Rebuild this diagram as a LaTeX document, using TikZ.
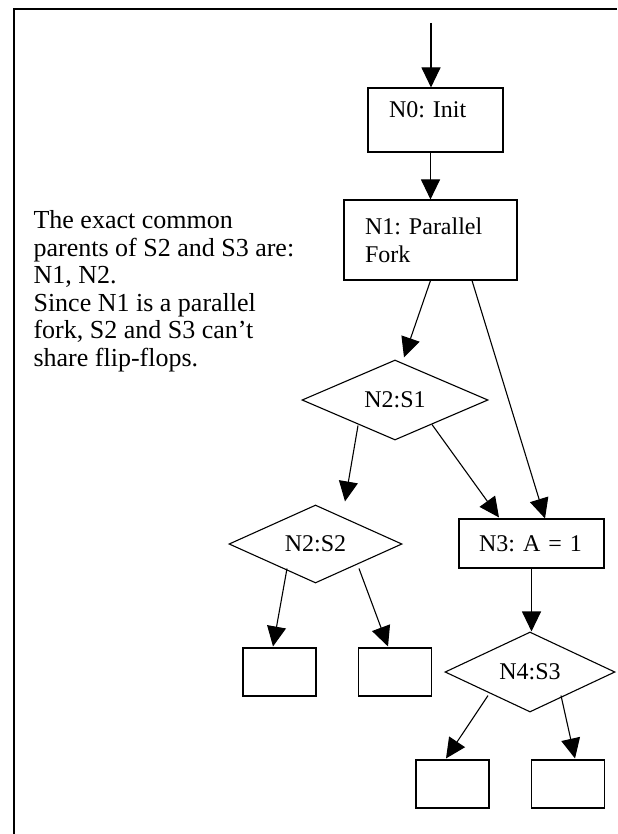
\documentclass[tikz,border=0pt]{standalone}
\usepackage{fontspec}
\setmainfont{Liberation Serif}
\frenchspacing
\usetikzlibrary{arrows.meta, shapes.geometric, calc}
\tikzset{
  every picture/.style={font=\fontsize{12pt}{13.8pt}\selectfont, line width=0.55pt},
  box/.style={draw, rectangle, align=left, inner xsep=10.5pt, inner ysep=0pt},
  cond/.style={draw, diamond, aspect=2.2, inner sep=0pt},
  leaf/.style={draw, rectangle, minimum width=36.5pt, minimum height=24pt, inner sep=0pt},
  arrow/.style={-{Triangle[length=10pt, width=9.5pt]}},
  frame/.style={line width=1pt},
  note/.style={align=left, inner sep=0pt, font=\fontsize{13pt}{13.8pt}\selectfont},
}

\begin{document}
\begin{tikzpicture}[x=0.5pt, y=-0.5pt]
  \useasboundingbox (0,0) rectangle (617,834);
  \draw[frame] (13.5,834) -- (13.5,9) -- (617,9);

  % ---- the remark on the left
  \node[note, anchor=north west] (remark) at (33,210)
    {The exact common\\parents of S2 and S3 are:\\N1, N2.\\Since N1 is a parallel\\fork, S2 and S3 can’t\\share flip-flops.};

  % ---- the flow
  \coordinate (entry) at (431,23);
  \node[box, text width=46.5pt, text depth=10pt, minimum height=32pt] (init) at (435.5,120) {N0: Init};
  \node[box, text width=65.5pt, minimum height=40pt] (fork) at (430.5,240) {N1: Parallel\\Fork};
  \node[cond, minimum width=93pt, minimum height=40pt] (s1) at (395,400) {N2:S1};
  \node[cond, minimum width=86.5pt, minimum height=39pt] (s2) at (315.5,544) {N2:S2};
  \node[box, text width=52.5pt, inner xsep=10pt, minimum height=24.5pt] (n3) at (531.5,543.5) {N3: A = 1};
  \node[cond, minimum width=85pt, minimum height=40pt] (s3) at (530,672) {N4:S3};
  \foreach \n/\x/\y in {b1/279.5/672, b2/395/672, b3/452.5/784, b4/568/784}
    { \node[leaf] (\n) at (\x,\y) {}; }

  \draw[arrow] (entry) -- (entry |- init.north);
  \draw[arrow] (fork.north |- init.south) -- (fork.north);
  \draw[arrow] (fork.south) -- ($(s1.north)+(9,-2)$);
  \draw[arrow] ($(fork.south)+(41.5,0)$) -- ($(n3.north)+(13.5,0)$);
  \draw[arrow] ($(s1.south)+(-37,-15)$) -- ($(s2.north)+(29.5,-3)$);
  \draw[arrow] ($(s1.south)+(37,-16)$) -- ($(n3.north)+(-32.5,-1)$);
  \draw[arrow] ($(s2.south)+(-28.5,-15)$) -- ($(b1.north)+(-6.5,-1)$);
  \draw[arrow] ($(s2.south)+(43.5,-15)$) -- ($(b2.north)+(-7,-1)$);
  \draw[arrow] (n3.south) -- (n3.south |- s3.north);
  \draw[arrow] ($(s3.south)+(-42,-17)$) -- ($(b3.north)+(-6.5,-1)$);
  \draw[arrow] ($(s3.south)+(31,-17)$) -- ($(b4.north)+(7,-1)$);
\end{tikzpicture}
\end{document}
